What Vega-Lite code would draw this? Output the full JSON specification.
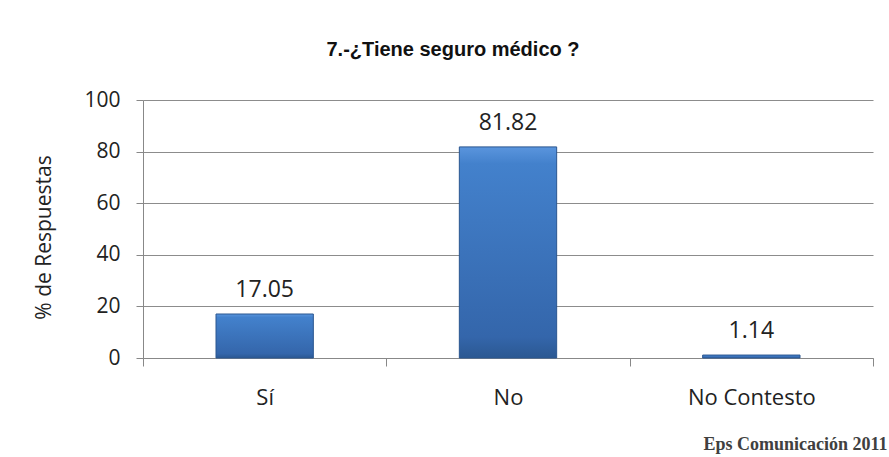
{
  "$schema": "https://vega.github.io/schema/vega-lite/v6.json",
  "autosize": {"type": "none"},
  "width": 730,
  "height": 258,
  "padding": {"left": 143, "top": 100, "right": 16, "bottom": 99},
  "background": "white",
  "title": {
    "text": "7.-¿Tiene seguro médico ?",
    "frame": "group",
    "anchor": "middle",
    "dx": -55,
    "offset": 13,
    "baseline": "alphabetic",
    "font": "Liberation Sans",
    "fontSize": 20,
    "fontWeight": "bold",
    "color": "#111111"
  },
  "data": {
    "values": [
      {"categoria": "Sí", "porcentaje": 17.05},
      {"categoria": "No", "porcentaje": 81.82},
      {"categoria": "No Contesto", "porcentaje": 1.14}
    ]
  },
  "config": {
    "view": {"stroke": null},
    "axis": {"labelFont": "Open Sans", "titleFont": "Open Sans"}
  },
  "encoding": {
    "x": {
      "field": "categoria",
      "type": "nominal",
      "sort": null,
      "scale": {"paddingInner": 0, "paddingOuter": 0},
      "axis": {
        "title": "Eps Comunicación 2011",
        "titleFont": "Liberation Serif",
        "titleFontSize": 18,
        "titleFontWeight": "bold",
        "titleColor": "#404040",
        "titleAnchor": "end",
        "titleAlign": "right",
        "titleBaseline": "alphabetic",
        "titleX": 744,
        "titleY": 91,
        "labelAngle": 0,
        "labelFontSize": 22,
        "labelColor": "#222222",
        "labelPadding": 21,
        "tickBand": "extent",
        "tickSize": 8,
        "tickColor": "#888888",
        "domainColor": "#888888",
        "grid": false
      }
    },
    "y": {
      "field": "porcentaje",
      "type": "quantitative",
      "scale": {"domain": [0, 100]},
      "axis": {
        "title": "% de Respuestas",
        "titleFontSize": 21,
        "titleFontWeight": "normal",
        "titleColor": "#222222",
        "titleAngle": -90,
        "titleAlign": "center",
        "titleBaseline": "middle",
        "titleX": -99,
        "titleY": 137,
        "values": [0, 20, 40, 60, 80, 100],
        "labelFontSize": 21,
        "labelColor": "#222222",
        "labelPadding": 16,
        "tickSize": 7,
        "tickColor": "#888888",
        "domainColor": "#888888",
        "gridColor": "#8c8c8c",
        "gridOpacity": 1
      }
    }
  },
  "layer": [
    {
      "mark": {
        "type": "bar",
        "width": {"band": 0.4},
        "stroke": "#2a5690",
        "strokeWidth": 1,
        "color": {
          "gradient": "linear",
          "x1": 0, "y1": 0, "x2": 0, "y2": 1,
          "stops": [
            {"offset": 0, "color": "#5a95dd"},
            {"offset": 0.08, "color": "#4381cc"},
            {"offset": 0.9, "color": "#3466ab"},
            {"offset": 1, "color": "#2b5892"}
          ]
        }
      }
    },
    {
      "mark": {
        "type": "text",
        "baseline": "alphabetic",
        "dy": -17,
        "font": "Open Sans",
        "fontSize": 23,
        "color": "#222222"
      },
      "encoding": {
        "text": {"field": "porcentaje", "type": "quantitative", "format": ".2f"}
      }
    }
  ]
}
